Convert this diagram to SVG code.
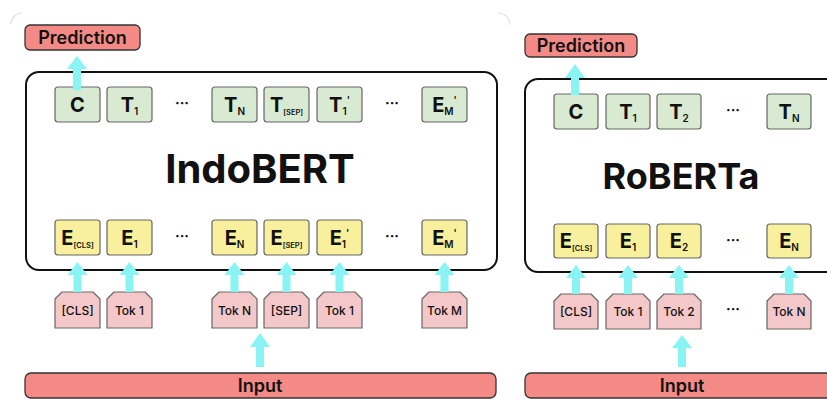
<svg xmlns="http://www.w3.org/2000/svg" width="827" height="399" viewBox="0 0 827 399">
<defs>
<style>
text{font-family:Inter,"Open Sans","Liberation Sans",sans-serif;fill:#111;text-anchor:middle}
.main{fill:#fff;stroke:#111;stroke-width:2}
.pred{fill:#f48a86;stroke:#333;stroke-width:1.3}
.out{fill:#d8ead2;stroke:#666;stroke-width:1.2}
.emb{fill:#f8f09c;stroke:#666;stroke-width:1.2}
.tok{fill:#f4c8c8;stroke:#666;stroke-width:1.2;stroke-linejoin:round}
.arr{fill:#8af3f3}
.lbl{font-size:18px;font-weight:600}
.big{font-size:40px;font-weight:700}
.box{font-size:20px;font-weight:700}
.sub{font-size:10px;font-weight:600}
.tiny{font-size:7.5px;font-weight:600}
.tk{font-size:12px;font-weight:500}
.dots{font-size:14px;font-weight:700}
.faint{fill:none;stroke:#e2e2e2;stroke-width:1.2}
</style>
</defs>

<path class="faint" d="M11,24 A11,11 0 0 1 22,13"/>
<path class="faint" d="M498,13 A12,12 0 0 1 510,25"/>

<!-- Left panel: IndoBERT -->
<g id="indobert">
<rect class="main" x="26" y="72" width="471" height="198" rx="13"/>
<text class="big" x="260" y="183">IndoBERT</text>
</g>
<g id="pred-left"><rect class="pred" x="25" y="25" width="115" height="25" rx="5"/><text class="lbl" x="82.5" y="44">Prediction</text></g>

<g id="l-c"><rect class="out" x="55" y="87" width="45" height="35" rx="3"/><text class="box" x="77.5" y="112">C</text></g>
<g id="l-t1"><rect class="out" x="107" y="87" width="45" height="35" rx="3"/><text class="box" x="129.5" y="112">T<tspan class="sub" dy="3">1</tspan></text></g>
<text class="dots" x="182" y="108">···</text>
<g id="l-tn"><rect class="out" x="212" y="87" width="45" height="35" rx="3"/><text class="box" x="234.5" y="112">T<tspan class="sub" dy="3">N</tspan></text></g>
<g id="l-tsep"><rect class="out" x="264" y="87" width="45" height="35" rx="3"/><text class="box" x="286.5" y="112">T<tspan class="tiny" dy="3">[SEP]</tspan></text></g>
<g id="l-t1p"><rect class="out" x="317" y="87" width="45" height="35" rx="3"/><text class="box" x="339.5" y="112">T<tspan class="sub" dy="3">1</tspan><tspan class="sub" dy="-11">'</tspan></text></g>
<text class="dots" x="392" y="108">···</text>
<g id="l-emp"><rect class="out" x="422" y="87" width="45" height="35" rx="3"/><text class="box" x="444.5" y="112">E<tspan class="sub" dy="3">M</tspan><tspan class="sub" dy="-11">'</tspan></text></g>

<g id="l-ecls"><rect class="emb" x="55" y="220" width="45" height="35" rx="3"/><text class="box" x="77.5" y="245">E<tspan class="tiny" dy="3">[CLS]</tspan></text></g>
<g id="l-e1"><rect class="emb" x="107" y="220" width="45" height="35" rx="3"/><text class="box" x="129.5" y="245">E<tspan class="sub" dy="3">1</tspan></text></g>
<text class="dots" x="182" y="241">···</text>
<g id="l-en"><rect class="emb" x="212" y="220" width="45" height="35" rx="3"/><text class="box" x="234.5" y="245">E<tspan class="sub" dy="3">N</tspan></text></g>
<g id="l-esep"><rect class="emb" x="264" y="220" width="45" height="35" rx="3"/><text class="box" x="286.5" y="245">E<tspan class="tiny" dy="3">[SEP]</tspan></text></g>
<g id="l-e1p"><rect class="emb" x="317" y="220" width="45" height="35" rx="3"/><text class="box" x="339.5" y="245">E<tspan class="sub" dy="3">1</tspan><tspan class="sub" dy="-11">'</tspan></text></g>
<text class="dots" x="392" y="241">···</text>
<g id="l-emp2"><rect class="emb" x="422" y="220" width="45" height="35" rx="3"/><text class="box" x="444.5" y="245">E<tspan class="sub" dy="3">M</tspan><tspan class="sub" dy="-11">'</tspan></text></g>

<g id="l-tcls"><path class="tok" d="M55,299 L62,292 L93,292 L100,299 L100,328 L55,328 Z"/><text class="tk" x="77.5" y="315">[CLS]</text></g>
<g id="l-tok1"><path class="tok" d="M107,299 L114,292 L145,292 L152,299 L152,328 L107,328 Z"/><text class="tk" x="129.5" y="315">Tok 1</text></g>
<g id="l-tokn"><path class="tok" d="M212,299 L219,292 L250,292 L257,299 L257,328 L212,328 Z"/><text class="tk" x="234.5" y="315">Tok N</text></g>
<g id="l-tsep2"><path class="tok" d="M264,299 L271,292 L302,292 L309,299 L309,328 L264,328 Z"/><text class="tk" x="286.5" y="315">[SEP]</text></g>
<g id="l-tok1b"><path class="tok" d="M317,299 L324,292 L355,292 L362,299 L362,328 L317,328 Z"/><text class="tk" x="339.5" y="315">Tok 1</text></g>
<g id="l-tokm"><path class="tok" d="M422,299 L429,292 L460,292 L467,299 L467,328 L422,328 Z"/><text class="tk" x="444.5" y="315">Tok M</text></g>

<g id="input-left"><rect class="pred" x="25" y="373" width="471" height="25" rx="6"/><text class="lbl" x="260" y="392">Input</text></g>

<!-- Right panel: RoBERTa -->
<g id="roberta">
<rect class="main" x="525" y="79" width="330" height="193" rx="13"/>
<text class="big" x="681" y="189" style="font-size:36px">RoBERTa</text>
</g>
<g id="pred-right"><rect class="pred" x="525" y="34" width="112" height="23" rx="5"/><text class="lbl" x="581" y="52">Prediction</text></g>

<g id="r-c"><rect class="out" x="554" y="94" width="44" height="35" rx="3"/><text class="box" x="576" y="119">C</text></g>
<g id="r-t1"><rect class="out" x="606" y="94" width="44" height="35" rx="3"/><text class="box" x="628" y="119">T<tspan class="sub" dy="3">1</tspan></text></g>
<g id="r-t2"><rect class="out" x="657" y="94" width="44" height="35" rx="3"/><text class="box" x="679" y="119">T<tspan class="sub" dy="3">2</tspan></text></g>
<text class="dots" x="733" y="115">···</text>
<g id="r-tn"><rect class="out" x="767" y="94" width="44" height="35" rx="3"/><text class="box" x="789" y="119">T<tspan class="sub" dy="3">N</tspan></text></g>

<g id="r-ecls"><rect class="emb" x="554" y="224" width="44" height="34" rx="3"/><text class="box" x="576" y="248">E<tspan class="tiny" dy="3">[CLS]</tspan></text></g>
<g id="r-e1"><rect class="emb" x="606" y="224" width="44" height="34" rx="3"/><text class="box" x="628" y="248">E<tspan class="sub" dy="3">1</tspan></text></g>
<g id="r-e2"><rect class="emb" x="657" y="224" width="44" height="34" rx="3"/><text class="box" x="679" y="248">E<tspan class="sub" dy="3">2</tspan></text></g>
<text class="dots" x="733" y="245">···</text>
<g id="r-en"><rect class="emb" x="767" y="224" width="44" height="34" rx="3"/><text class="box" x="789" y="248">E<tspan class="sub" dy="3">N</tspan></text></g>

<g id="r-tcls"><path class="tok" d="M554,301 L561,294 L591,294 L598,301 L598,329 L554,329 Z"/><text class="tk" x="576" y="316">[CLS]</text></g>
<g id="r-tok1"><path class="tok" d="M606,301 L613,294 L643,294 L650,301 L650,329 L606,329 Z"/><text class="tk" x="628" y="316">Tok 1</text></g>
<g id="r-tok2"><path class="tok" d="M657,301 L664,294 L694,294 L701,301 L701,329 L657,329 Z"/><text class="tk" x="679" y="316">Tok 2</text></g>
<text class="dots" x="733" y="314">···</text>
<g id="r-tokn"><path class="tok" d="M767,301 L774,294 L804,294 L811,301 L811,329 L767,329 Z"/><text class="tk" x="789" y="316">Tok N</text></g>

<g id="input-right"><rect class="pred" x="525" y="373" width="330" height="25" rx="6"/><text class="lbl" x="682" y="392">Input</text></g>

<!-- Connectors -->
<g id="connectors" class="arr">
<path d="M77,56 L87,69 L81,69 L81,90 L73,90 L73,69 L67,69 Z"/>
<path d="M77.5,262 L87.5,275 L81.5,275 L81.5,292 L73.5,292 L73.5,275 L67.5,275 Z"/>
<path d="M129.5,262 L139.5,275 L133.5,275 L133.5,292 L125.5,292 L125.5,275 L119.5,275 Z"/>
<path d="M234.5,262 L244.5,275 L238.5,275 L238.5,292 L230.5,292 L230.5,275 L224.5,275 Z"/>
<path d="M286.5,262 L296.5,275 L290.5,275 L290.5,292 L282.5,292 L282.5,275 L276.5,275 Z"/>
<path d="M339.5,262 L349.5,275 L343.5,275 L343.5,292 L335.5,292 L335.5,275 L329.5,275 Z"/>
<path d="M444.5,262 L454.5,275 L448.5,275 L448.5,292 L440.5,292 L440.5,275 L434.5,275 Z"/>
<path d="M260,333 L270,347 L264,347 L264,367 L256,367 L256,347 L250,347 Z"/>

<path d="M575,64 L585,78 L579,78 L579,95 L571,95 L571,78 L565,78 Z"/>
<path d="M576,265 L586,278 L580,278 L580,294 L572,294 L572,278 L566,278 Z"/>
<path d="M628,265 L638,278 L632,278 L632,294 L624,294 L624,278 L618,278 Z"/>
<path d="M679,265 L689,278 L683,278 L683,294 L675,294 L675,278 L669,278 Z"/>
<path d="M789,265 L799,278 L793,278 L793,294 L785,294 L785,278 L779,278 Z"/>
<path d="M682,335 L692,348 L686,348 L686,367 L678,367 L678,348 L672,348 Z"/>
</g>
</svg>
